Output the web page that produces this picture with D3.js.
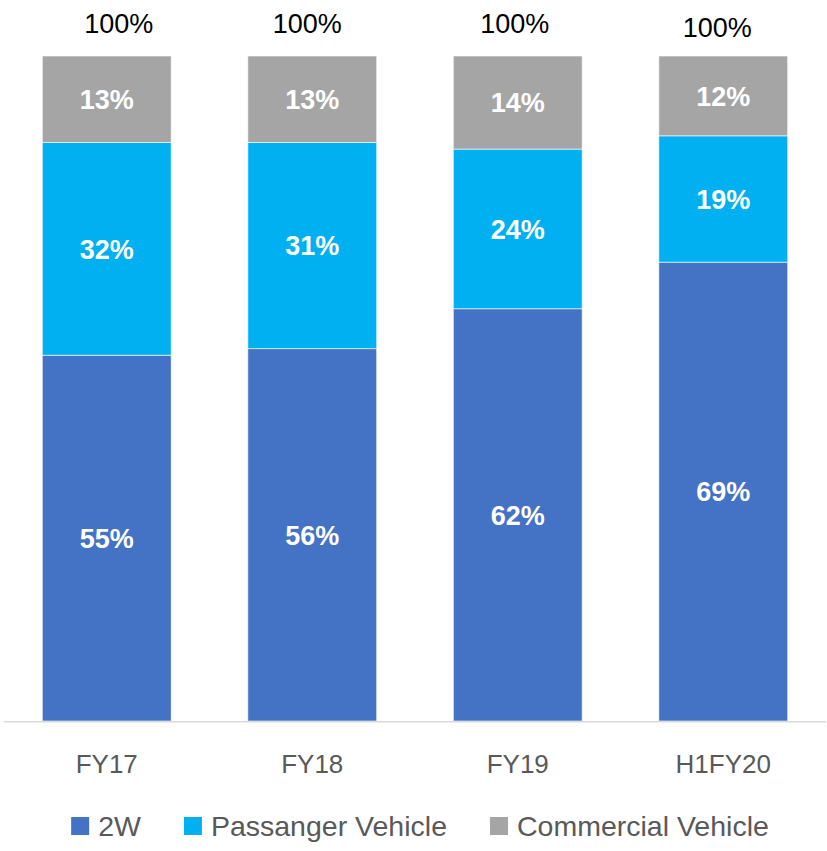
<!DOCTYPE html>
<html>
<head>
<meta charset="utf-8">
<script src="https://cdn.jsdelivr.net/npm/d3@7"></script>
<style>
  body { margin: 0; background: #fff; }
  svg { font-family: "Liberation Sans", Arial, sans-serif; }
</style>
</head>
<body>
<svg id="chart" width="827" height="851"></svg>
<script>
const categories = ["FY17", "FY18", "FY19", "H1FY20"];
const seriesNames = ["2W", "Passanger Vehicle", "Commercial Vehicle"];
const twoWheeler = [55, 56, 62, 69];
const passenger = [32, 31, 24, 19];
const commercial = [13, 13, 14, 12];
const totals = ["100%", "100%", "100%", "100%"];

const colors = ["#4472C4", "#00B0F0", "#A5A5A5"];
// the total labels are hand-placed text boxes in the original, a bit off-centre
const totalNudge = [{ dx: 12, dy: 0 }, { dx: -5, dy: 0 }, { dx: -3, dy: 0 }, { dx: -6, dy: 4 }];

const svg = d3.select("#chart");

const rows = categories.map((c, i) => ({
  cat: c,
  "2W": twoWheeler[i],
  "Passanger Vehicle": passenger[i],
  "Commercial Vehicle": commercial[i],
}));

const stacked = d3.stack().keys(seriesNames)(rows);

const x = d3
  .scaleBand()
  .domain(categories)
  .range([4, 826])
  .paddingInner(0.373)
  .paddingOuter(0.1865);

const y = d3.scaleLinear().domain([0, 100]).range([721, 56]);

const layers = svg
  .selectAll(".layer")
  .data(stacked)
  .enter()
  .append("g")
  .attr("class", "layer")
  .attr("fill", (d, i) => colors[i]);

layers
  .selectAll("rect")
  .data((d) => d)
  .enter()
  .append("rect")
  .attr("x", (d) => x(d.data.cat))
  .attr("y", (d) => y(d[1]))
  .attr("width", x.bandwidth())
  .attr("height", (d) => y(d[0]) - y(d[1]))
  .attr("stroke", "#ffffff")
  .attr("stroke-opacity", 0.6)
  .attr("stroke-width", 1);

layers
  .selectAll("text")
  .data((d) => d)
  .enter()
  .append("text")
  .attr("x", (d) => x(d.data.cat) + x.bandwidth() / 2)
  .attr("y", (d) => (y(d[0]) + y(d[1])) / 2)
  .attr("dy", "0.36em")
  .attr("text-anchor", "middle")
  .attr("fill", "#ffffff")
  .attr("font-weight", "bold")
  .attr("font-size", 27)
  .text((d) => d[1] - d[0] + "%");

// baseline
svg
  .append("line")
  .attr("x1", x.range()[0])
  .attr("x2", x.range()[1])
  .attr("y1", y(0) + 0.75)
  .attr("y2", y(0) + 0.75)
  .attr("stroke", "#D9D9D9")
  .attr("stroke-width", 1.5);

// category labels
svg
  .selectAll(".cat-label")
  .data(categories)
  .enter()
  .append("text")
  .attr("class", "cat-label")
  .attr("x", (d) => x(d) + x.bandwidth() / 2)
  .attr("y", 773)
  .attr("text-anchor", "middle")
  .attr("fill", "#595959")
  .attr("font-size", 26)
  .text((d) => d);

// totals above the bars
svg
  .selectAll(".total")
  .data(categories)
  .enter()
  .append("text")
  .attr("class", "total")
  .attr("x", (d, i) => x(d) + x.bandwidth() / 2 + totalNudge[i].dx)
  .attr("y", (d, i) => y(100) - 23 + totalNudge[i].dy)
  .attr("text-anchor", "middle")
  .attr("fill", "#000000")
  .attr("font-size", 27)
  .text((d, i) => totals[i]);

// legend
const legend = svg.append("g").attr("class", "legend");
let lx = 0;
seriesNames.forEach((name, i) => {
  const item = legend.append("g").attr("transform", `translate(${lx},0)`);
  item
    .append("rect")
    .attr("x", 0)
    .attr("y", 817)
    .attr("width", 18)
    .attr("height", 18)
    .attr("fill", colors[i]);
  const t = item
    .append("text")
    .attr("x", 27)
    .attr("y", 836)
    .attr("fill", "#595959")
    .attr("font-size", 28.5)
    .text(name);
  lx += 27 + t.node().getComputedTextLength() + 43;
});
const legendWidth = lx - 43;
legend.attr("transform", `translate(${420 - legendWidth / 2},0)`);
</script>
</body>
</html>
